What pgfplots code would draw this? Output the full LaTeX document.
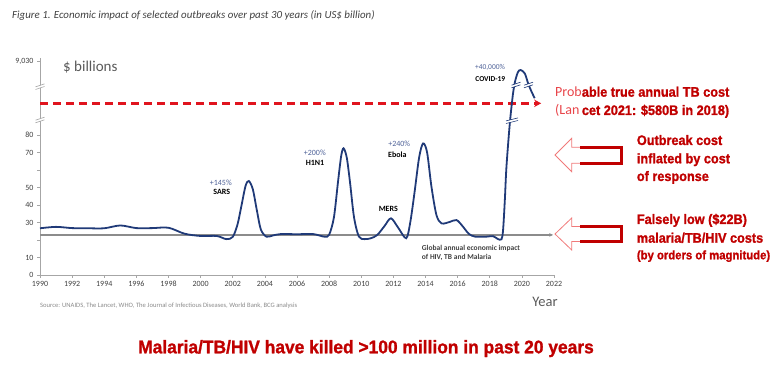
\documentclass[border=0pt]{standalone}
\usepackage{fontspec}
\setmainfont{Carlito}
\newfontfamily\redbf{Liberation Sans Bold}[FakeStretch=0.92,FakeBold=1.2]
\newfontfamily\redbw{Liberation Sans Bold}[FakeStretch=0.95,FakeBold=1.2]
\usepackage{pgfplots}
\pgfplotsset{compat=1.18}
\usetikzlibrary{arrows.meta}
\definecolor{navy}{HTML}{203A78}
\definecolor{hline}{HTML}{8C8C8C}
\definecolor{dashred}{HTML}{E0141E}
\definecolor{darkred}{HTML}{C00000}
\definecolor{lightred}{HTML}{E8454A}
\definecolor{arrowlight}{HTML}{F07A7A}
\definecolor{axisgray}{HTML}{A6A6A6}
\definecolor{tickgray}{HTML}{404040}
\definecolor{pctblue}{HTML}{4F6298}
\definecolor{titlegray}{HTML}{404040}
\definecolor{midgray}{HTML}{595959}
\definecolor{srcgray}{HTML}{8A8A8A}
\newcommand{\fs}[1]{\fontsize{#1}{#1}\selectfont}
\begin{document}
\begin{tikzpicture}[x=1pt,y=1pt]
\path[use as bounding box] (0,0) rectangle (780,-371);
\begin{axis}[
  at={(40pt,-275pt)}, anchor=south west,
  scale only axis, width=514pt, height=217pt,
  xmin=1990, xmax=2022, ymin=0, ymax=124,
  axis x line*=bottom, axis y line*=left,
  axis line style={axisgray, line width=0.8pt},
  clip=false,
  xtick={1990,1992,...,2022},
  ytick={0,10,20,30,40,50,60,70,80,121.9},
  yticklabels={0,10,,30,40,50,,70,80,{9,030}},
  tick align=outside, major tick length=3pt,
  tick style={axisgray, line width=0.6pt},
  /pgf/number format/assume math mode=true,
  /pgf/number format/1000 sep={},
  ticklabel style={font=\fs{8}, text=tickgray},
]
\addplot[hline, line width=1.2pt, -{Stealth[length=4pt,width=3.5pt]}] coordinates {(1990,22.9) (2021.95,22.9)};
\addplot[dashred, line width=2.4pt, dash pattern=on 8pt off 5pt, -{Stealth[length=7pt,width=7.5pt]}] coordinates {(1990,98.1) (2021.2,98.1)};
\addplot[navy, line width=1.8pt, smooth, tension=0.5] coordinates {
(1990,26.7) (1991,27.5) (1992,26.8) (1993,26.7) (1994,26.7) (1995,28.3) (1996,26.8) (1997,26.8) (1998,27.0)
(1999,23.6) (2000,22.3) (2001,22.3) (2001.6,20.5) (2002.0,21.8) (2002.3,29) (2002.55,40) (2002.8,51) (2003.0,53.7)
(2003.25,49) (2003.5,37) (2003.75,26) (2004.1,21.9) (2004.5,22.6) (2005,23.4) (2006,23.3) (2007,23.4) (2007.7,21.9)
(2008.0,23) (2008.3,33) (2008.55,53) (2008.75,68) (2008.9,72.4) (2009.1,67) (2009.3,53) (2009.55,33) (2009.85,22)
(2010.2,20.5) (2010.6,21) (2011,22.9) (2011.45,28) (2011.85,32.4) (2012.3,27) (2012.8,21) (2013.05,30) (2013.3,46)
(2013.6,67) (2013.85,75.2) (2014.1,70) (2014.37,50.5) (2014.68,34.3) (2015,29.5) (2015.5,30.3) (2015.93,31.4)
(2016.3,28) (2016.7,23.5) (2017.1,21.9) (2017.8,21.9) (2018.2,22.2) (2018.5,20.6) (2018.73,20.4) (2018.83,25.7)
(2018.94,42.9) (2019.04,61.9) (2019.25,86.7) (2019.45,103.8) (2019.6,111.5) (2019.77,116.2) (2019.93,117.1)
(2020.18,115.2) (2020.39,109.5) (2020.6,104.8) (2020.8,101)};
\end{axis}
% break symbols (white gap + two slanted strokes)
\foreach \bx/\by/\bw/\bc in {40/86.7/4.5/axisgray, 40/120/4.5/axisgray, 512/120.7/6/navy, 516/85/4.5/navy, 528.5/85/4.5/navy}{
  \fill[white] (\bx-\bw,-\by-2.6) -- (\bx+\bw,-\by+0.4) -- (\bx+\bw,-\by+2.6) -- (\bx-\bw,-\by-0.4) -- cycle;
  \draw[\bc, line width=0.6pt] (\bx-\bw,-\by-2.8) -- (\bx+\bw,-\by+0.2);
  \draw[\bc, line width=0.6pt] (\bx-\bw,-\by-0.2) -- (\bx+\bw,-\by+2.8);
}
% titles
\node[anchor=west, inner sep=0, text=titlegray] at (12,-15) {\fs{10.9}\itshape Figure 1. Economic impact of selected outbreaks over past 30 years (in US\$ billion)};
\node[anchor=west, inner sep=0, text=midgray] at (63,-66.7) {\fs{15}\$ billions};
\node[anchor=center, inner sep=0, text=midgray] at (545,-301.7) {\fs{14.5}Year};
\node[anchor=west, inner sep=0, text=srcgray] at (40,-306) {\fs{6.6}Source: UNAIDS, The Lancet, WHO, The Journal of Infectious Diseases, World Bank, BCG analysis};
% outbreak labels
\node[inner sep=0, text=pctblue] at (220.8,-182.7) {\fs{8}+145\%};
\node[inner sep=0, text=black] at (221.7,-191.7) {\fs{8}\bfseries SARS};
\node[inner sep=0, text=pctblue] at (314.8,-153.3) {\fs{8}+200\%};
\node[inner sep=0, text=black] at (315,-162.7) {\fs{8}\bfseries H1N1};
\node[inner sep=0, text=pctblue] at (399.2,-144.3) {\fs{8}+240\%};
\node[inner sep=0, text=black] at (397.3,-154.3) {\fs{8}\bfseries Ebola};
\node[inner sep=0, text=black] at (388.3,-208.7) {\fs{8}\bfseries MERS};
\node[inner sep=0, text=pctblue] at (490,-67.3) {\fs{7.5}+40,000\%};
\node[inner sep=0, text=black] at (490.3,-79.3) {\fs{7.5}\bfseries COVID-19};
\node[anchor=west, inner sep=0, text=tickgray] at (421.7,-248.3) {\fs{7.5}\bfseries Global annual economic impact};
\node[anchor=west, inner sep=0, text=tickgray] at (421.7,-257.7) {\fs{7.5}\bfseries of HIV, TB and Malaria};
% TB cost text
\node[anchor=base west, inner sep=0, text=lightred] at (555,-96.7) {\fs{14}Prob};
\node[anchor=base west, inner sep=0, text=darkred] at (581.7,-96.7) {\redbf\fs{13.8}able true annual TB cost};
\node[anchor=base west, inner sep=0, text=lightred] at (555,-115) {\fs{14}(Lan};
\node[anchor=base west, inner sep=0, text=darkred] at (581.7,-115) {\redbf\fs{13.8}cet 2021: \$580B in 2018)};
% hollow arrows
\draw[arrowlight, line width=0.8pt] (555,-155) -- (571.7,-138.3) -- (571.7,-147.3) -- (621.7,-147.3) -- (621.7,-163.3) -- (571.7,-163.3) -- (571.7,-171.7) -- cycle;
\draw[darkred, line width=2.6pt] (580,-147.3) -- (621.7,-147.3) -- (621.7,-163.3) -- (580,-163.3);
\draw[arrowlight, line width=0.8pt] (555,-234) -- (571.7,-218) -- (571.7,-226.5) -- (621.7,-226.5) -- (621.7,-241.5) -- (571.7,-241.5) -- (571.7,-250) -- cycle;
\draw[darkred, line width=2.6pt] (580,-226.5) -- (621.7,-226.5) -- (621.7,-241.5) -- (580,-241.5);
% right red texts
\node[anchor=base west, inner sep=0, text=darkred] at (636.7,-145) {\redbf\fs{13.8}Outbreak cost};
\node[anchor=base west, inner sep=0, text=darkred] at (636.7,-163.3) {\redbf\fs{13.8}inflated by cost};
\node[anchor=base west, inner sep=0, text=darkred] at (636.7,-181) {\redbf\fs{13.8}of response};
\node[anchor=base west, inner sep=0, text=darkred] at (636.7,-224) {\redbf\fs{13.8}Falsely low (\$22B)};
\node[anchor=base west, inner sep=0, text=darkred] at (636.7,-242.7) {\redbf\fs{13.8}malaria/TB/HIV costs};
\node[anchor=base west, inner sep=0, text=darkred] at (636.7,-259.3) {\redbf\fs{12.3}(by orders of magnitude)};
% bottom message
\node[anchor=base, inner sep=0, text=darkred] at (366,-353.3) {\redbw\fs{18.3}Malaria/TB/HIV have killed >100 million in past 20 years};
\end{tikzpicture}
\end{document}
